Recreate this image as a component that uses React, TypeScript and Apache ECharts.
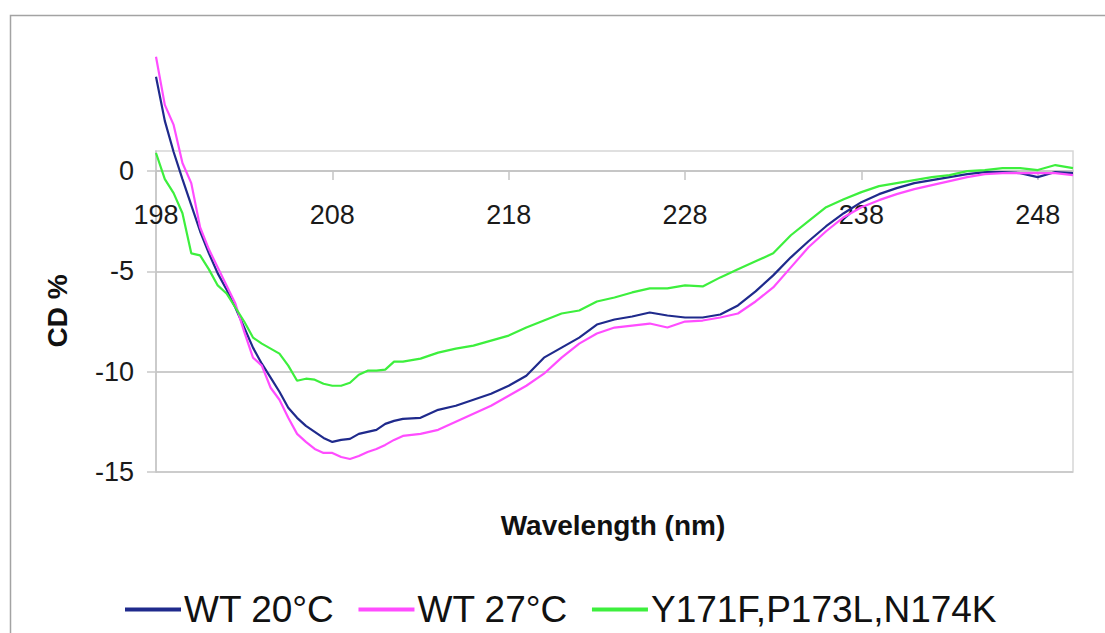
import React, { useEffect, useRef } from "react";
import * as echarts from "echarts";

const wavelengths = [
  198, 198.5, 199, 199.5, 200, 200.5, 201, 201.5, 202, 202.5, 203, 203.5, 204, 204.5,
  205, 205.5, 206, 206.5, 207, 207.5, 208, 208.5, 209, 209.5, 210, 210.5, 211, 211.5, 212,
  213, 214, 215, 216, 217, 218, 219, 220, 221, 222, 223, 224, 225, 226, 227, 228, 229, 230,
  231, 232, 233, 234, 235, 236, 237, 238, 239, 240, 241, 242, 243, 244, 245, 246, 247, 248,
  249, 250,
];

const wt20 = [
  4.7, 2.5, 0.95, -0.4, -1.7, -3.0, -4.1, -5.1, -5.9, -6.8, -7.8, -8.8, -9.6, -10.3,
  -11.0, -11.8, -12.3, -12.7, -13.0, -13.3, -13.5, -13.4, -13.35, -13.1, -13.0, -12.9, -12.6, -12.45, -12.35,
  -12.3, -11.9, -11.7, -11.4, -11.1, -10.7, -10.2, -9.3, -8.8, -8.3, -7.65, -7.4, -7.25, -7.05, -7.2, -7.3, -7.3, -7.15,
  -6.7, -6.0, -5.2, -4.3, -3.5, -2.75, -2.1, -1.55, -1.15, -0.85, -0.6, -0.45, -0.3, -0.15, -0.05, -0.05, -0.1, -0.3,
  -0.05, -0.1,
];

const wt27 = [
  5.7, 3.3, 2.3, 0.4, -0.6, -2.8, -3.9, -4.8, -5.7, -6.6, -8.0, -9.3, -9.7, -10.8,
  -11.4, -12.3, -13.1, -13.5, -13.85, -14.05, -14.05, -14.25, -14.35, -14.2, -14.0, -13.85, -13.65, -13.4, -13.2,
  -13.1, -12.9, -12.5, -12.1, -11.7, -11.2, -10.7, -10.1, -9.3, -8.6, -8.1, -7.8, -7.7, -7.6, -7.8, -7.5, -7.45, -7.3,
  -7.1, -6.5, -5.8, -4.8, -3.8, -3.0, -2.3, -1.8, -1.45, -1.15, -0.9, -0.7, -0.5, -0.3, -0.15, -0.1, -0.1, -0.1,
  -0.1, -0.2,
];

const mutant = [
  0.9, -0.4, -1.1, -2.1, -4.1, -4.2, -4.9, -5.7, -6.1, -6.8, -7.5, -8.3, -8.6, -8.85,
  -9.1, -9.7, -10.45, -10.35, -10.4, -10.6, -10.7, -10.7, -10.55, -10.15, -9.95, -9.95, -9.9, -9.5, -9.5,
  -9.35, -9.05, -8.85, -8.7, -8.45, -8.2, -7.8, -7.45, -7.1, -6.95, -6.5, -6.3, -6.05, -5.85, -5.85, -5.7, -5.75, -5.3,
  -4.9, -4.5, -4.1, -3.2, -2.5, -1.8, -1.4, -1.05, -0.75, -0.6, -0.45, -0.3, -0.2, 0.0, 0.05, 0.15, 0.15, 0.05,
  0.3, 0.15,
];

const seriesNames = ["WT 20°C", "WT 27°C", "Y171F,P173L,N174K"];
const seriesColors = ["#1f2a8c", "#ff4dff", "#3def3d"];
const xTicks = [198, 208, 218, 228, 238, 248];
const yTicks = [-15, -10, -5, 0];
const xTitle = "Wavelength (nm)";
const yTitle = "CD %";

const FONT = '"Liberation Sans", Arial, Helvetica, sans-serif';

const GRID_TOP = 151;
const GRID_BOTTOM = 161;
const Y_MIN = -15;
const Y_MAX = 1;

export default function App() {
  const ref = useRef<HTMLDivElement | null>(null);

  useEffect(() => {
    if (!ref.current) return;
    const chart = echarts.init(ref.current, null, { renderer: "svg" });
    const allValues = [wt20, wt27, mutant];
    const plotH = 633 - GRID_TOP - GRID_BOTTOM;
    // shift the x axis from the bottom of the grid up to the zero line
    const zeroOffset = -(plotH * (0 - Y_MIN)) / (Y_MAX - Y_MIN);
    const option = {
      animation: false,
      backgroundColor: "#ffffff",
      textStyle: { fontFamily: FONT },
      grid: {
        left: 156,
        right: 32,
        top: GRID_TOP,
        bottom: GRID_BOTTOM,
        show: true,
        borderColor: "#d6d6d6",
        borderWidth: 1.5,
        backgroundColor: "transparent",
      },
      legend: {
        left: 120,
        top: 586,
        icon: "rect",
        itemWidth: 56,
        itemHeight: 4,
        itemGap: 24,
        textStyle: {
          fontSize: 37,
          lineHeight: 36,
          color: "#111",
          fontFamily: FONT,
          padding: [0, 0, 0, -2],
        },
        data: seriesNames,
      },
      xAxis: {
        type: "value",
        min: 198,
        max: 250,
        offset: zeroOffset,
        axisLine: { show: true, onZero: false, lineStyle: { color: "#c4c4c4", width: 1.5 } },
        axisTick: {
          show: true,
          length: 9,
          customValues: xTicks,
          lineStyle: { color: "#c4c4c4", width: 1.5 },
        },
        axisLabel: {
          customValues: xTicks,
          margin: 30,
          fontSize: 27,
          color: "#1a1a1a",
          fontFamily: FONT,
        },
        splitLine: { show: false },
      },
      yAxis: {
        type: "value",
        min: Y_MIN,
        max: Y_MAX,
        interval: 5,
        axisLine: { show: true, lineStyle: { color: "#c4c4c4", width: 1.5 } },
        axisTick: {
          show: true,
          length: 9,
          customValues: yTicks,
          lineStyle: { color: "#c8c8c8", width: 1.5 },
        },
        axisLabel: {
          customValues: yTicks,
          margin: 22,
          fontSize: 27,
          color: "#1a1a1a",
          fontFamily: FONT,
        },
        splitLine: { show: true, lineStyle: { color: "#cccccc", width: 2 } },
      },
      graphic: [
        {
          type: "rect",
          shape: { x: 10.5, y: 15.5, width: 1200, height: 700 },
          style: { fill: "none", stroke: "#a3a3a3", lineWidth: 1.5 },
          silent: true,
          z: -10,
        },
        {
          type: "text",
          x: 57,
          y: 311,
          rotation: Math.PI / 2,
          style: {
            text: yTitle,
            fontSize: 28,
            fontWeight: "bold",
            fontFamily: FONT,
            fill: "#111",
            align: "center",
            verticalAlign: "middle",
          },
        },
        {
          type: "text",
          x: 613,
          y: 525,
          style: {
            text: xTitle,
            fontSize: 28,
            fontWeight: "bold",
            fontFamily: FONT,
            fill: "#111",
            align: "center",
            verticalAlign: "middle",
          },
        },
      ],
      series: seriesNames.map((name, k) => ({
        name,
        type: "line",
        clip: false,
        showSymbol: false,
        symbol: "none",
        color: seriesColors[k],
        lineStyle: { color: seriesColors[k], width: 2.2 },
        data: wavelengths.map((w, i) => [w, allValues[k][i]]),
      })),
    };
    chart.setOption(option as any);
    return () => chart.dispose();
  }, []);

  return (
    <div
      ref={ref}
      style={{ position: "fixed", left: 0, top: 0, width: 1105, height: 633, background: "#fff" }}
    />
  );
}
